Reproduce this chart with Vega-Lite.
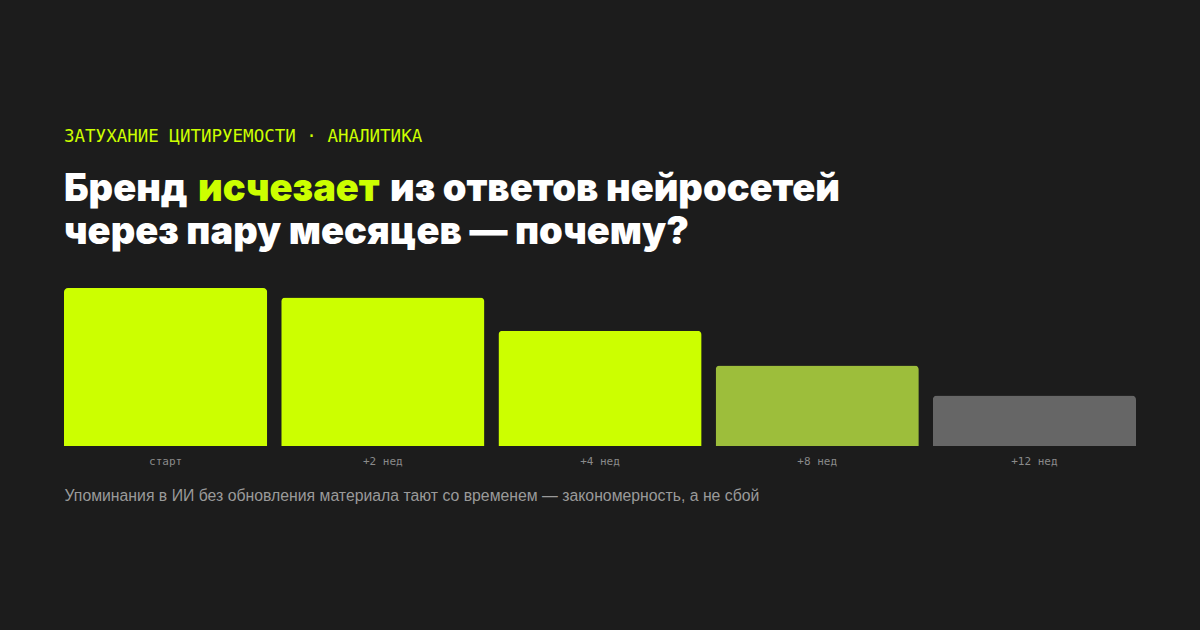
{
  "$schema": "https://vega.github.io/schema/vega-lite/v6.json",
  "background": "#1c1c1c",
  "padding": {"left": 64, "top": 127, "right": 64, "bottom": 127},
  "title": {
    "text": "ЗАТУХАНИЕ ЦИТИРУЕМОСТИ · АНАЛИТИКА",
    "anchor": "start",
    "font": "DejaVu Sans Mono",
    "fontSize": 17.5,
    "fontWeight": "normal",
    "color": "#ccff00",
    "offset": 26
  },
  "datasets": {
    "decay": [
      {"period": "старт", "share": 100},
      {"period": "+2 нед", "share": 94},
      {"period": "+4 нед", "share": 73},
      {"period": "+8 нед", "share": 51},
      {"period": "+12 нед", "share": 32}
    ]
  },
  "data": {"name": "decay"},
  "spacing": 0,
  "vconcat": [
    {
      "spacing": 10,
      "hconcat": [
        {
          "width": 1, "height": 1,
          "mark": {"type": "rect", "opacity": 0},
          "title": {"text": "Бренд", "color": "#ffffff"}
        },
        {
          "width": 1, "height": 1,
          "mark": {"type": "rect", "opacity": 0},
          "title": {"text": "исчезает", "color": "#ccff00"}
        },
        {
          "width": 1, "height": 1,
          "mark": {"type": "rect", "opacity": 0},
          "title": {"text": "из ответов нейросетей", "color": "#ffffff"}
        }
      ]
    },
    {
      "width": 1072,
      "height": 158,
      "title": {"text": "через пару месяцев — почему?", "color": "#ffffff", "offset": 36},
      "mark": {"type": "bar", "cornerRadiusTopLeft": 4, "cornerRadiusTopRight": 4},
      "encoding": {
        "x": {
          "field": "period",
          "type": "nominal",
          "sort": null,
          "scale": {"paddingInner": 0.0645, "paddingOuter": 0},
          "axis": {
            "title": "Упоминания в ИИ без обновления материала тают со временем — закономерность, а не сбой",
            "titleAnchor": "start",
            "titleAlign": "left",
            "titleFont": "Liberation Sans",
            "titleFontSize": 15.8,
            "titleFontWeight": "normal",
            "titleColor": "#9a9a9a",
            "titlePadding": 22,
            "labelAngle": 0,
            "labelFont": "DejaVu Sans Mono",
            "labelFontSize": 11,
            "labelColor": "#8a8a8a",
            "labelPadding": 9,
            "ticks": false,
            "domain": false
          }
        },
        "y": {
          "field": "share",
          "type": "quantitative",
          "scale": {"domain": [0, 100]},
          "axis": null
        },
        "color": {
          "field": "period",
          "type": "nominal",
          "sort": null,
          "scale": {
            "domain": ["старт", "+2 нед", "+4 нед", "+8 нед", "+12 нед"],
            "range": ["#ccff00", "#ccff00", "#ccff00", "#9dbe3b", "#666666"]
          },
          "legend": null
        }
      }
    }
  ],
  "config": {
    "view": {"stroke": null},
    "title": {
      "anchor": "start",
      "font": "Inter",
      "fontSize": 38,
      "fontWeight": 900,
      "offset": 0
    }
  }
}
